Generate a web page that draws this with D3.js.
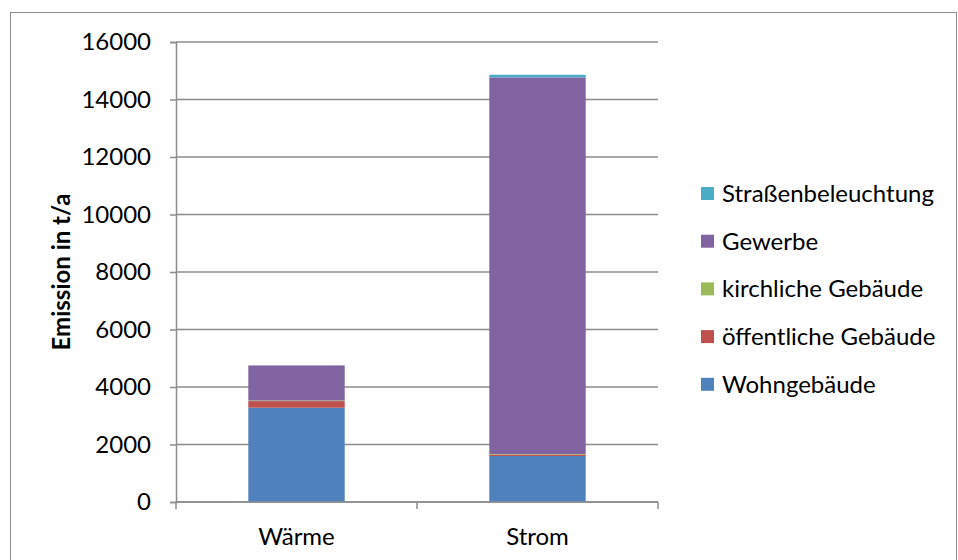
<!DOCTYPE html>
<html>
<head>
<meta charset="utf-8">
<script src="https://cdn.jsdelivr.net/npm/d3@7"></script>
<style>
  body { margin: 0; background: #fff; }
  svg { font-family: Lato, "Open Sans", sans-serif; }
</style>
</head>
<body>
<svg id="chart"></svg>
<script>
const width = 958;
const height = 560;
const margin = { top: 42, right: 300, bottom: 58, left: 176 };

// data (t/a)
const categories = ['Wärme', 'Strom'];
const wohngebaeude = [3280, 1600];
const oeffentliche = [230, 50];
const kirchliche = [20, 20];
const gewerbe = [1220, 13100];
const strassen = [0, 90];
const yTicks = [0, 2000, 4000, 6000, 8000, 10000, 12000, 14000, 16000];

const seriesNames = ['Wohngebäude', 'öffentliche Gebäude', 'kirchliche Gebäude', 'Gewerbe', 'Straßenbeleuchtung'];
const seriesValues = [wohngebaeude, oeffentliche, kirchliche, gewerbe, strassen];
const colors = ['#4F81BD', '#C0504D', '#9BBB59', '#8064A2', '#4BACC6'];

const rows = categories.map((c, i) => {
    const row = { cat: c };
    seriesNames.forEach((s, j) => { row[s] = seriesValues[j][i]; });
    return row;
});

const colorScale = d3.scaleOrdinal().domain(seriesNames).range(colors);

const svg = d3.select('#chart')
    .attr('width', width)
    .attr('height', height);

// outer frame
svg.append('rect')
    .attr('x', 10.5).attr('y', 12.5)
    .attr('width', 946).attr('height', 600)
    .attr('fill', 'none')
    .attr('stroke', '#8c8c8c')
    .attr('stroke-width', 1);

const plotRight = 658;
const plotBottom = 502;

const xScale = d3.scaleBand()
    .domain(categories)
    .range([margin.left, plotRight])
    .paddingInner(0.6)
    .paddingOuter(0.3);

const yScale = d3.scaleLinear()
    .domain([0, 16000])
    .range([plotBottom, margin.top]);

const axisColor = '#8c8c8c';
const fontSize = '24px';

// gridlines
svg.append('g')
    .selectAll('line')
    .data(yTicks)
    .join('line')
    .attr('x1', margin.left)
    .attr('x2', plotRight)
    .attr('y1', d => yScale(d))
    .attr('y2', d => yScale(d))
    .attr('stroke', axisColor)
    .attr('stroke-width', 1.5);

// stacked bars
const stack = d3.stack().keys(seriesNames)(rows);
svg.append('g')
    .selectAll('g')
    .data(stack)
    .join('g')
    .attr('fill', d => colorScale(d.key))
    .selectAll('rect')
    .data(d => d)
    .join('rect')
    .attr('x', d => xScale(d.data.cat))
    .attr('y', d => yScale(d[1]))
    .attr('width', xScale.bandwidth())
    .attr('height', d => Math.max(0, yScale(d[0]) - yScale(d[1])));

// y axis
const yAxis = svg.append('g')
    .attr('transform', `translate(${margin.left},0)`)
    .call(d3.axisLeft(yScale).tickValues(yTicks).tickSize(6).tickPadding(19).tickFormat(d3.format('d')));
yAxis.select('.domain').attr('stroke', axisColor).attr('stroke-width', 1.5);
yAxis.selectAll('.tick line').attr('stroke', axisColor).attr('stroke-width', 1.5);
yAxis.selectAll('.tick text')
    .attr('fill', '#000')
    .style('font-size', fontSize)
    .style('font-family', 'Lato, sans-serif');

// x axis
const xAxis = svg.append('g')
    .attr('transform', `translate(0,${plotBottom})`);
xAxis.append('line')
    .attr('x1', margin.left).attr('x2', plotRight)
    .attr('stroke', axisColor).attr('stroke-width', 1.5);
const step = (plotRight - margin.left) / categories.length;
xAxis.selectAll('.xtick')
    .data(d3.range(categories.length + 1))
    .join('line')
    .attr('class', 'xtick')
    .attr('x1', i => margin.left + i * step)
    .attr('x2', i => margin.left + i * step)
    .attr('y1', 0).attr('y2', 7)
    .attr('stroke', axisColor).attr('stroke-width', 1.5);
xAxis.selectAll('.xlabel')
    .data(categories)
    .join('text')
    .attr('class', 'xlabel')
    .attr('x', d => xScale(d) + xScale.bandwidth() / 2)
    .attr('y', 43)
    .attr('text-anchor', 'middle')
    .style('font-size', fontSize)
    .text(d => d);

// y axis title
svg.append('text')
    .attr('transform', `translate(70,272) rotate(-90)`)
    .attr('text-anchor', 'middle')
    .style('font-size', fontSize)
    .style('font-weight', 'bold')
    .text('Emission in t/a');

// legend (reverse order, top = last series)
const legend = svg.append('g')
    .attr('transform', 'translate(701,187)');
legend.selectAll('.legend-item')
    .data(seriesNames.slice().reverse())
    .join('g')
    .attr('class', 'legend-item')
    .attr('transform', (d, i) => `translate(0, ${i * 47.7})`)
    .each(function(d) {
        d3.select(this).append('rect')
            .attr('width', 13)
            .attr('height', 13)
            .attr('fill', colorScale(d));
        d3.select(this).append('text')
            .attr('x', 21)
            .attr('y', 15)
            .style('font-size', fontSize)
            .text(d);
    });
</script>
</body>
</html>
